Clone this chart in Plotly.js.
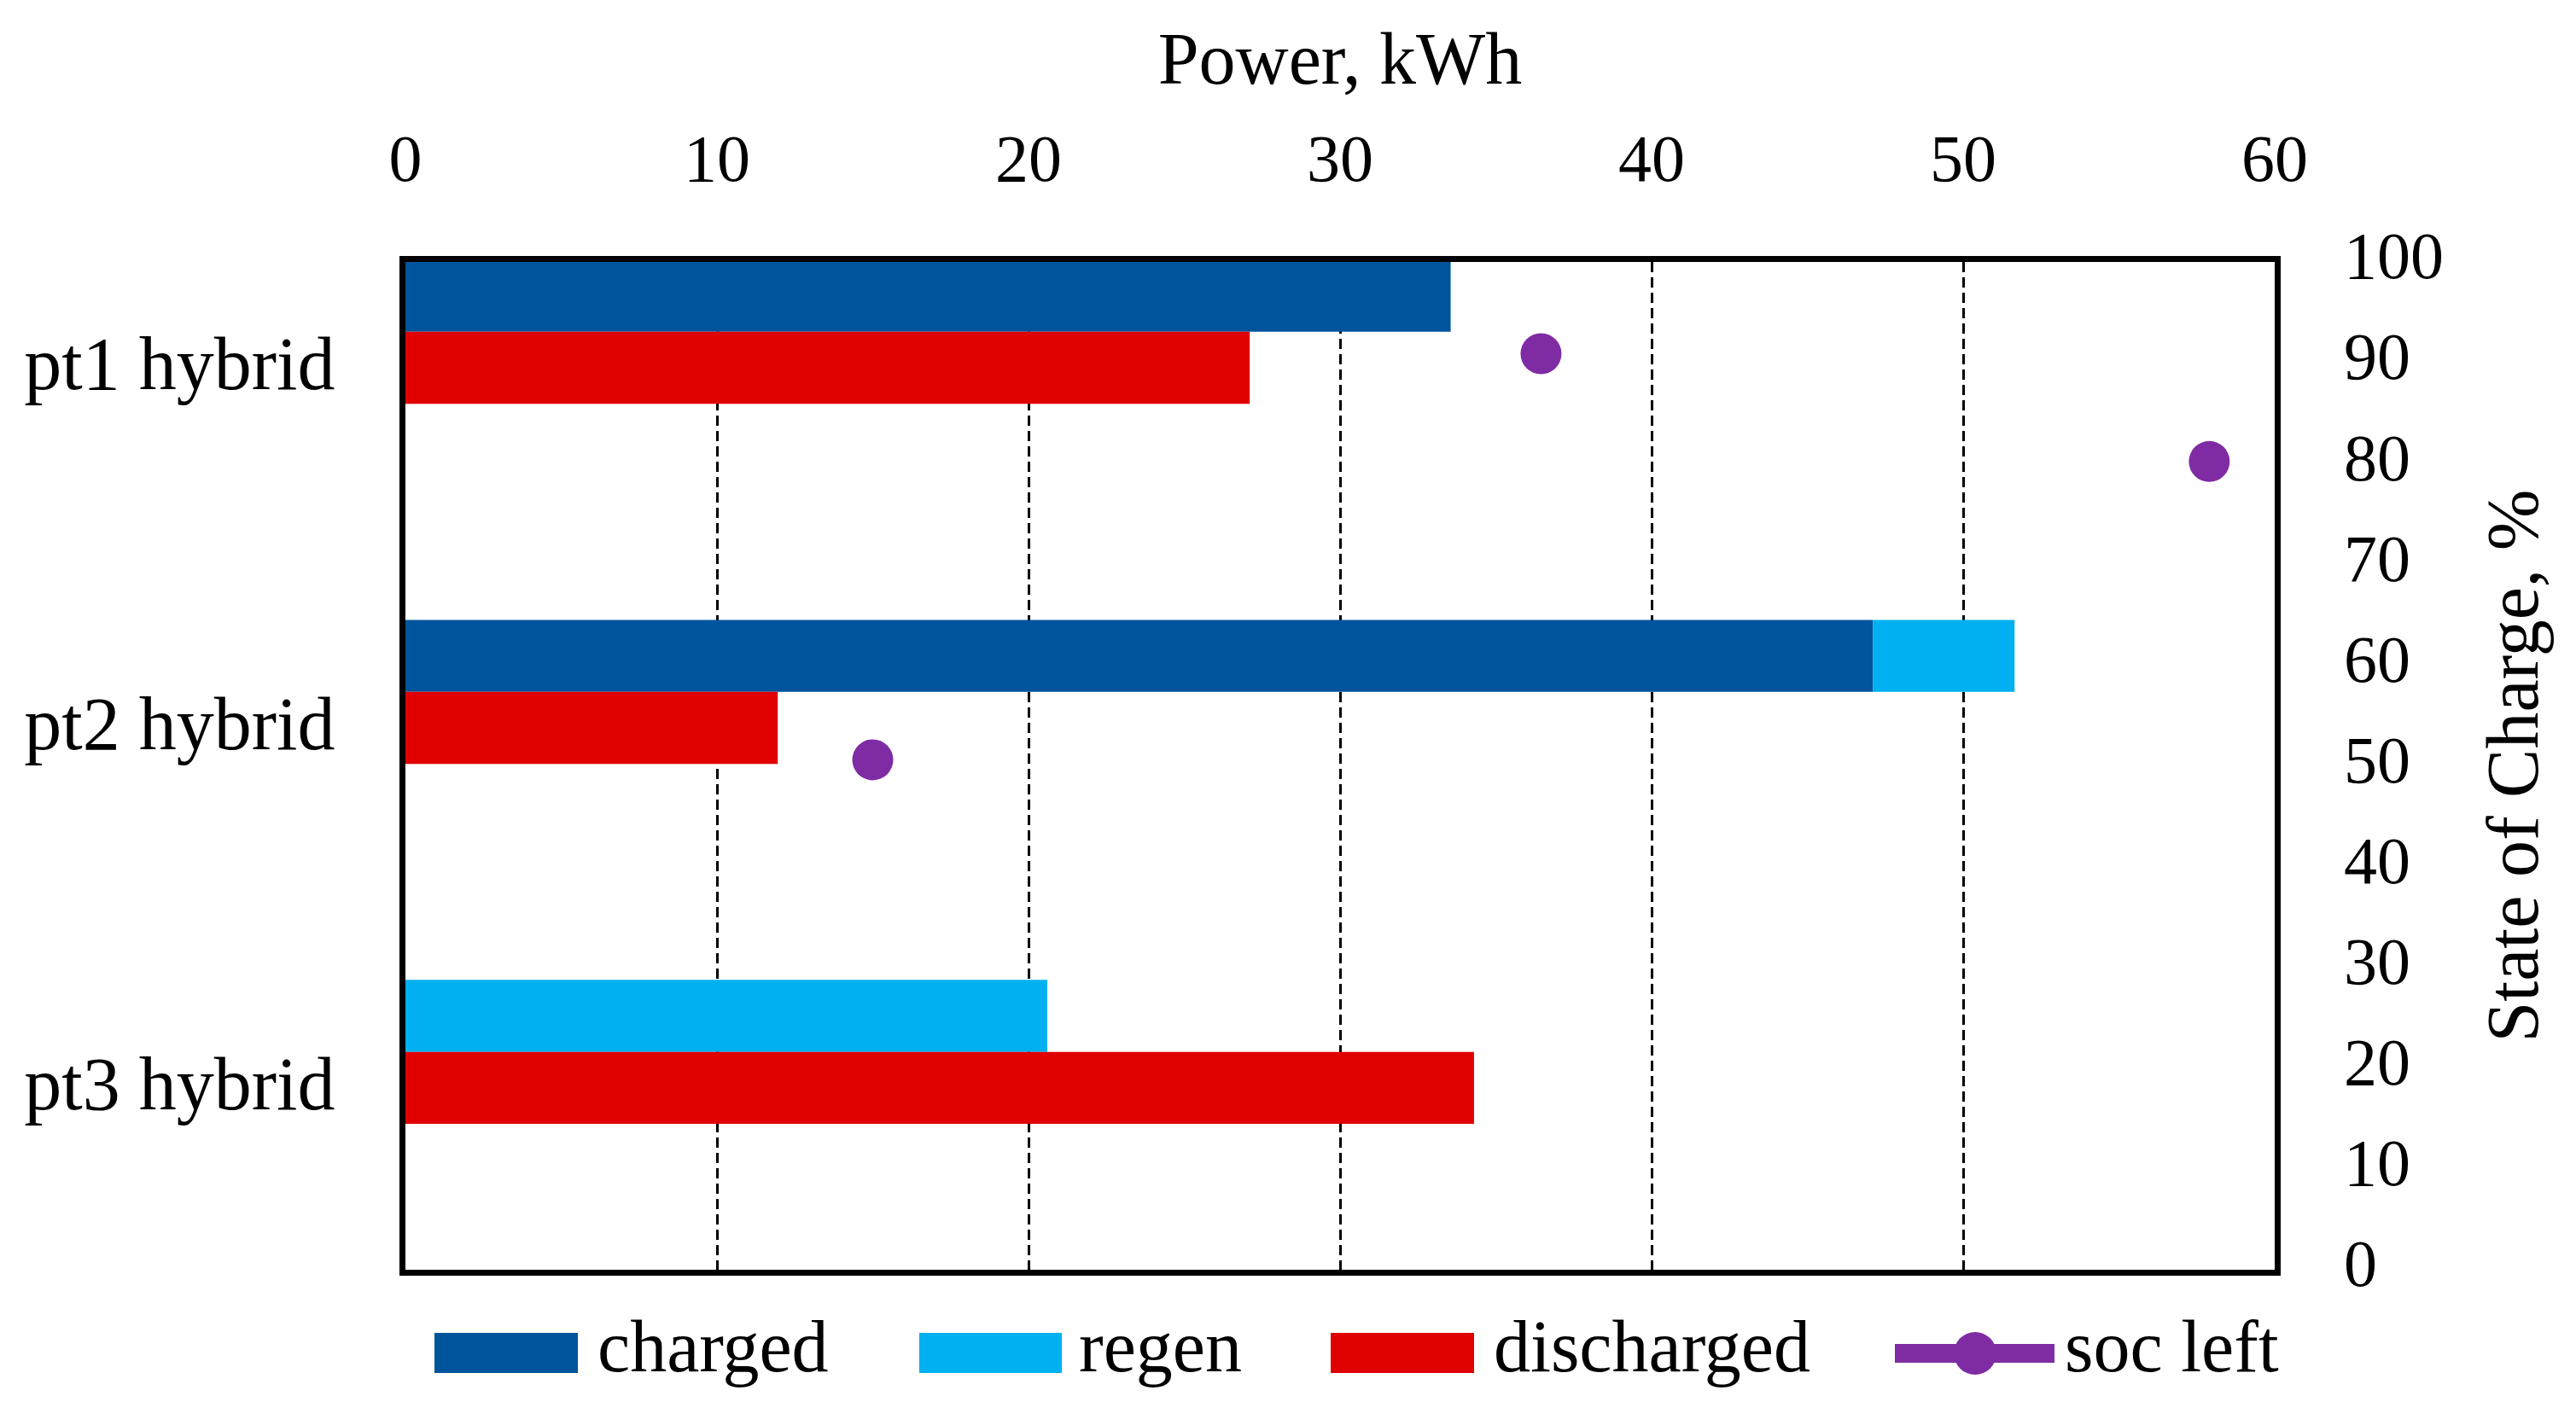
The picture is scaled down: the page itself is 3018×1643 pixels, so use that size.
<!DOCTYPE html>
<html>
<head>
<meta charset="utf-8">
<script src="https://cdn.plot.ly/plotly-3.0.1.min.js"></script>
<style>html,body{margin:0;padding:0;background:#fff;}#chart{width:3018px;height:1643px;}</style>
</head>
<body>
<div id="chart"></div>
<script>
// ---- data ----
const categories = ["pt1 hybrid", "pt2 hybrid", "pt3 hybrid"];
const charged = [33.55, 47.1, 0];
const regen = [0, 4.55, 20.6];
const discharged = [27.1, 11.95, 34.3];
const socPower = [36.45, 57.9, 15.0];   // x position (Power, kWh)
const socLeft = [90.9, 80.2, 50.6];     // State of Charge, %
const xTicks = [0, 10, 20, 30, 40, 50, 60];
const y2Ticks = [0, 10, 20, 30, 40, 50, 60, 70, 80, 90, 100];

const seriesNames = ["charged", "regen", "discharged", "soc left"];
const colors = {charged: "#00549C", regen: "#00B0F0", discharged: "#E00000", soc: "#7F2CA4"};

const FONT = "Liberation Serif, Times New Roman, serif";

// plot area in pixels
const W = 3018, H = 1643;
const L = 475, R = 2665, T = 307, B = 1488;
const pw = R - L, ph = B - T;
const px = v => (v - L) / pw;
const py = v => (B - v) / ph;

const traces = [
  {type: "bar", orientation: "h", name: seriesNames[0], y: categories, x: charged,
   offset: -0.3, width: 0.2, marker: {color: colors.charged, line: {width: 0}},
   xaxis: "x", yaxis: "y", showlegend: false},
  {type: "bar", orientation: "h", name: seriesNames[1], y: categories, x: regen, base: charged,
   offset: -0.3, width: 0.2, marker: {color: colors.regen, line: {width: 0}},
   xaxis: "x", yaxis: "y", showlegend: false},
  {type: "bar", orientation: "h", name: seriesNames[2], y: categories, x: discharged,
   offset: -0.1, width: 0.2, marker: {color: colors.discharged, line: {width: 0}},
   xaxis: "x", yaxis: "y", showlegend: false},
  {type: "scatter", mode: "markers", name: seriesNames[3], x: socPower, y: socLeft,
   marker: {color: colors.soc, size: 48, line: {width: 0}},
   xaxis: "x", yaxis: "y2", showlegend: false}
];

// custom legend (shapes + text)
const legY0 = py(1609), legY1 = py(1562), legMid = py(1586);
const shapes = [
  {type: "rect", xref: "paper", yref: "paper", x0: px(509), x1: px(677), y0: legY0, y1: legY1,
   fillcolor: colors.charged, line: {width: 0}},
  {type: "rect", xref: "paper", yref: "paper", x0: px(1077), x1: px(1244), y0: legY0, y1: legY1,
   fillcolor: colors.regen, line: {width: 0}},
  {type: "rect", xref: "paper", yref: "paper", x0: px(1559), x1: px(1727), y0: legY0, y1: legY1,
   fillcolor: colors.discharged, line: {width: 0}},
  {type: "line", xref: "paper", yref: "paper", x0: px(2220), x1: px(2407), y0: legMid, y1: legMid,
   line: {color: colors.soc, width: 22}},
  {type: "circle", xref: "paper", yref: "paper", x0: px(2289), x1: px(2339), y0: py(1611), y1: py(1561),
   fillcolor: colors.soc, line: {width: 0}}
];
const legTextX = [698, 1262, 1748, 2417];
const annotations = seriesNames.map((n, i) => ({
  text: n, xref: "paper", yref: "paper", x: px(legTextX[i]), y: py(1578),
  xanchor: "left", yanchor: "middle", showarrow: false,
  font: {family: FONT, size: 86, color: "#000"}
}));

const layout = {
  width: W, height: H,
  margin: {l: L, r: W - R, t: T, b: H - B, pad: 0},
  paper_bgcolor: "#fff", plot_bgcolor: "#fff",
  barmode: "overlay",
  showlegend: false,
  font: {family: FONT, color: "#000"},
  xaxis: {
    side: "top", range: [0, 60], tickvals: xTicks, ticktext: xTicks.map(String),
    showgrid: true, gridcolor: "#000", gridwidth: 3, griddash: "12px,6px",
    zeroline: false, showline: true, linecolor: "#000", linewidth: 7, mirror: true,
    ticks: "", ticklabelstandoff: 57,
    tickfont: {family: FONT, size: 78, color: "#000"},
    title: {text: "Power, kWh", font: {family: FONT, size: 86, color: "#000"}, standoff: 17}
  },
  yaxis: {
    type: "category", categoryorder: "array", categoryarray: categories,
    range: [2.505, -0.294], autorange: false,
    showgrid: false, zeroline: false, showline: true, linecolor: "#000", linewidth: 7, mirror: true,
    ticks: "", ticklabelstandoff: 58, ticklabelshift: 6,
    tickfont: {family: FONT, size: 88, color: "#000"}
  },
  yaxis2: {
    overlaying: "y", side: "right", range: [0, 100], tickvals: y2Ticks, ticktext: y2Ticks.map(String),
    showgrid: false, zeroline: false, showline: false,
    ticks: "", ticklabelstandoff: 80, ticklabelshift: -8,
    tickfont: {family: FONT, size: 78, color: "#000"},
    title: {text: "State of Charge, %", font: {family: FONT, size: 86, color: "#000"}, standoff: 50}
  },
  shapes: shapes,
  annotations: annotations
};

Plotly.newPlot("chart", traces, layout, {displayModeBar: false, staticPlot: true});
</script>
</body>
</html>
